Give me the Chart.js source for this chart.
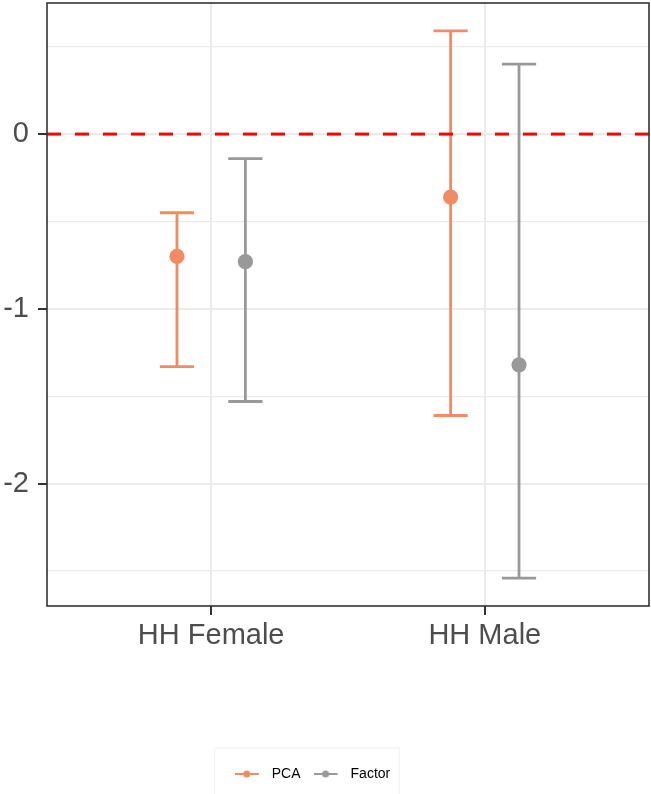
<!DOCTYPE html>
<html lang="en">
<head>
<meta charset="UTF-8">
<title>PCA vs Factor estimates</title>
<script src="https://cdn.jsdelivr.net/npm/chart.js"></script>
<style>
  html, body { margin: 0; padding: 0; background: #fff; }
</style>
</head>
<body>
<canvas id="chart" width="651" height="794"></canvas>
<script>
// values
const categories = ['HH Female', 'HH Male'];
const pcaEst = [-0.70, -0.36];
const pcaLow = [-1.33, -1.61];
const pcaHigh = [-0.45, 0.59];
const factorEst = [-0.73, -1.32];
const factorLow = [-1.53, -2.54];
const factorHigh = [-0.14, 0.40];
const yTicks = [-2.5, -2, -1.5, -1, -0.5, 0, 0.5];

const FONT = '"Liberation Sans", Arial, sans-serif';
const ORANGE = '#F28B63';
const GREY = '#999999';
const DODGE = 0.125;

function legendSymbol(color) {
    const c = document.createElement('canvas');
    c.width = 30; c.height = 12;
    const g = c.getContext('2d');
    g.strokeStyle = color; g.lineWidth = 2;
    g.beginPath(); g.moveTo(0, 6); g.lineTo(24, 6); g.stroke();
    g.fillStyle = color;
    g.beginPath(); g.arc(12, 6, 3.5, 0, Math.PI * 2); g.fill();
    return c;
}

function points(est, shift) {
    return est.map((v, i) => ({ x: i + 1 + shift, y: v }));
}

const isMajor = c => c.tick && Number.isInteger(c.tick.value);

// vertical bars with whiskers, drawn under the points
const errorBars = {
    id: 'errorBars',
    beforeDatasetsDraw(chart) {
        const { ctx, scales: { x, y } } = chart;
        chart.data.datasets.forEach(ds => {
            if (!ds.low) return;
            ds.data.forEach((p, i) => {
                const px = x.getPixelForValue(p.x);
                const half = x.getPixelForValue(p.x + 0.0625) - px;
                const yl = y.getPixelForValue(ds.low[i]);
                const yh = y.getPixelForValue(ds.high[i]);
                ctx.save();
                ctx.strokeStyle = ds.borderColor;
                ctx.lineWidth = 2.8;
                ctx.beginPath();
                ctx.moveTo(px, yl); ctx.lineTo(px, yh);
                ctx.moveTo(px - half, yl); ctx.lineTo(px + half, yl);
                ctx.moveTo(px - half, yh); ctx.lineTo(px + half, yh);
                ctx.stroke();
                ctx.restore();
            });
        });
    }
};

const panelBox = {
    id: 'panelBox',
    afterLayout(chart) {
        chart.legend.left -= 12;
        chart.legend.right -= 12;
    },
    afterDraw(chart) {
        const { ctx, chartArea: a, legend } = chart;
        ctx.save();
        ctx.strokeStyle = '#333333';
        ctx.lineWidth = 1.6;
        ctx.strokeRect(a.left, a.top, a.right - a.left, a.bottom - a.top);
        const hb = legend.legendHitBoxes;
        if (hb && hb.length) {
            const first = hb[0], last = hb[hb.length - 1];
            const cy = first.top + first.height / 2;
            ctx.strokeStyle = '#F0F0F0';
            ctx.lineWidth = 1;
            ctx.strokeRect(first.left - 20, cy - 26, last.left + last.width + 29 - first.left, 60);
        }
        ctx.restore();
    }
};

new Chart(document.getElementById('chart').getContext('2d'), {
    type: 'scatter',
    data: {
        datasets: [
            {
                label: 'PCA',
                data: points(pcaEst, -DODGE),
                low: pcaLow, high: pcaHigh,
                backgroundColor: ORANGE, borderColor: ORANGE,
                pointRadius: 7.6, pointBorderWidth: 0, order: 1
            },
            {
                label: 'Factor',
                data: points(factorEst, DODGE),
                low: factorLow, high: factorHigh,
                backgroundColor: GREY, borderColor: GREY,
                pointRadius: 7.6, pointBorderWidth: 0, order: 1
            },
            {
                type: 'line',
                label: '',
                data: [{ x: 0.4, y: 0 }, { x: 2.6, y: 0 }],
                borderColor: '#FF0000', borderWidth: 3,
                borderDash: [14, 14],
                pointRadius: 0, fill: false, order: 0
            }
        ]
    },
    options: {
        responsive: false,
        animation: false,
        layout: { autoPadding: false, padding: { top: 3, right: 2, bottom: 3, left: 0 } },
        plugins: {
            tooltip: { enabled: false },
            legend: {
                position: 'bottom',
                labels: {
                    usePointStyle: true,
                    pointStyleWidth: 30,
                    padding: 13,
                    color: '#000000',
                    font: { size: 14, family: FONT },
                    generateLabels(chart) {
                        return chart.data.datasets
                            .map((ds, i) => ({ ds, i }))
                            .filter(o => o.ds.label)
                            .map(o => ({
                                text: o.ds.label,
                                fillStyle: o.ds.borderColor,
                                strokeStyle: o.ds.borderColor,
                                lineWidth: 0,
                                pointStyle: legendSymbol(o.ds.borderColor),
                                fontColor: '#000000',
                                hidden: false,
                                datasetIndex: o.i
                            }));
                    }
                }
            }
        },
        scales: {
            x: {
                type: 'linear',
                min: 0.4, max: 2.6,
                afterBuildTicks: ax => { ax.ticks = categories.map((c, i) => ({ value: i + 1 })); },
                afterFit: ax => { ax.height = 148; ax.paddingLeft = 0; ax.paddingRight = 0; },
                border: { display: false },
                grid: { color: '#EBEBEB', lineWidth: 2, tickColor: '#333333', tickLength: 9, tickWidth: 2 },
                ticks: {
                    callback: v => categories[v - 1] || '',
                    color: '#4D4D4D',
                    font: { size: 29, family: FONT },
                    padding: 4,
                    maxRotation: 0,
                    autoSkip: false
                }
            },
            y: {
                min: -2.7, max: 0.75,
                afterBuildTicks: ax => { ax.ticks = yTicks.map(v => ({ value: v })); },
                afterFit: ax => { ax.width = 47; ax.paddingTop = 0; ax.paddingBottom = 0; },
                border: { display: false },
                grid: {
                    color: '#EBEBEB',
                    lineWidth: c => isMajor(c) ? 2 : 1.2,
                    tickColor: c => isMajor(c) ? '#333333' : 'rgba(0,0,0,0)',
                    tickLength: 9,
                    tickWidth: 2
                },
                ticks: {
                    callback: v => Number.isInteger(v) ? String(v) : '',
                    color: '#4D4D4D',
                    font: { size: 29, family: FONT },
                    padding: 9
                }
            }
        }
    },
    plugins: [errorBars, panelBox]
});
</script>
</body>
</html>
